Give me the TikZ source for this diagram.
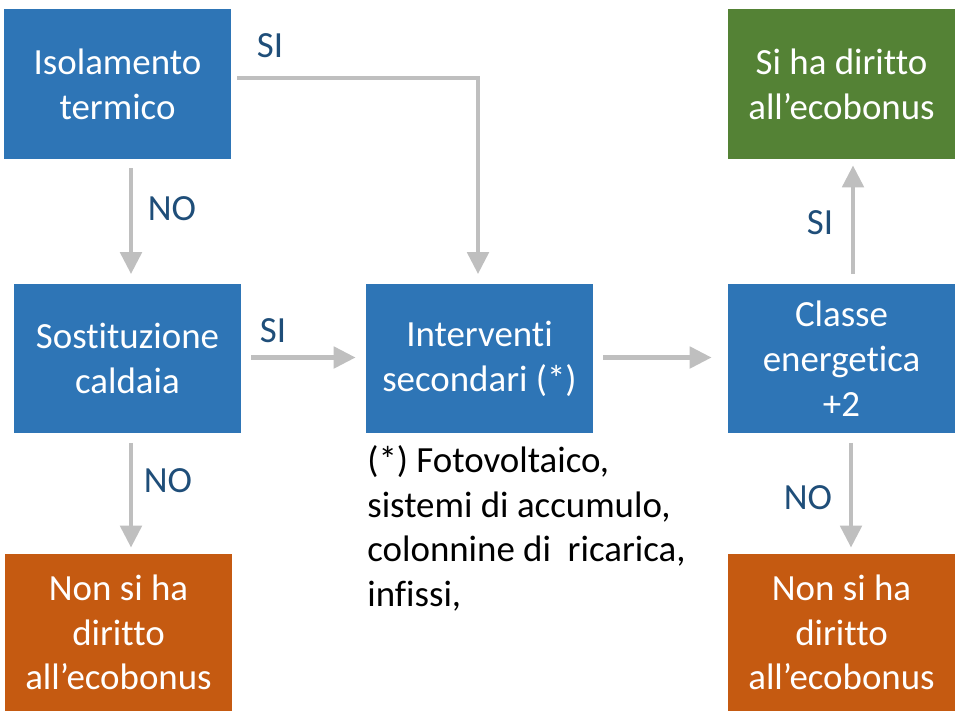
\documentclass[tikz,border=0pt]{standalone}
\usepackage{fontspec}
\setmainfont{Carlito}[RawFeature={-liga;-clig}]
\usetikzlibrary{arrows.meta,calc,positioning}

\definecolor{boxblue}{HTML}{2E75B6}
\definecolor{boxgreen}{HTML}{548235}
\definecolor{boxorange}{HTML}{C55A11}
\definecolor{flowgray}{HTML}{BFBFBF}
\definecolor{lblblue}{HTML}{1F4E79}

\begin{document}
\begin{tikzpicture}[
    x=0.02cm, y=-0.02cm,
    font=\fontsize{21}{25.5}\selectfont,
    stepbox/.style  = {rectangle, minimum width=4.54cm, minimum height=3.0cm,
                       align=center, text=white, inner sep=0pt},
    askbox/.style   = {stepbox, fill=boxblue},
    yesbox/.style   = {stepbox, fill=boxgreen},
    nobox/.style    = {stepbox, fill=boxorange, minimum height=3.14cm},
    flow/.style     = {-{Triangle[length=4.4mm, width=4.2mm]}, line width=2.8pt,
                       draw=flowgray},
    answer/.style   = {text=lblblue, inner sep=0pt},
    footnote/.style = {align=left, anchor=north west, inner sep=0pt}
  ]

% canvas
\useasboundingbox (0,0) rectangle (962,717);

% ---------------------------------------------------------
% Boxes
% ---------------------------------------------------------
\node[askbox] (iso)    at (117.5, 84)  {Isolamento\\termico};
\node[askbox] (sost)   at (127.5,358.5) {Sostituzione\\caldaia};
\node[nobox]  (noL)    at (118.5,632.5) {Non si ha\\diritto\\all’ecobonus};
\node[askbox] (inter)  at (479.5,358.5) {Interventi\\secondari (*)};
\node[askbox] (classe) at (841.5,358.5) {Classe\\energetica\\+2};
\node[yesbox] (si)     at (841.5, 84)  {Si ha diritto\\all’ecobonus};
\node[nobox]  (noR)    at (841.5,632.5) {Non si ha\\diritto\\all’ecobonus};

% footnote under the secondary works
\node[footnote] (note) at (367,445)
  {(*) Fotovoltaico,\\sistemi di accumulo,\\colonnine di\ \ ricarica,\\infissi,};

% ---------------------------------------------------------
% Connectors
% ---------------------------------------------------------
\draw[flow] ($(iso.east)+(6,-6)$) -| ($(inter.north)+(-1.5,-9)$);
\draw[flow] ($(iso.south)+(13.5,9)$) -- ($(sost.north)+(3.5,-9)$);
\draw[flow] ($(sost.east)+(10,-1)$) -- ($(inter.west)+(-10,-1)$);
\draw[flow] ($(sost.south)+(3.5,9)$) -- ($(noL.north)+(12.5,-6)$);
\draw[flow] ($(inter.east)+(10,-1)$) -- ($(classe.west)+(-16,-1)$);
\draw[flow] ($(classe.north)+(11.5,-9)$) -- ($(si.south)+(11.5,6)$);
\draw[flow] ($(classe.south)+(9.5,9)$) -- ($(noR.north)+(9.5,-6)$);

% answers
\node[answer] (siA)  at (270, 46)  {SI};
\node[answer] (noA)  at (172,209)  {NO};
\node[answer] (siB)  at (273,331)  {SI};
\node[answer] (noB)  at (168,481)  {NO};
\node[answer] (siC)  at (820,223)  {SI};
\node[answer] (noC)  at (808,498)  {NO};

\end{tikzpicture}
\end{document}
